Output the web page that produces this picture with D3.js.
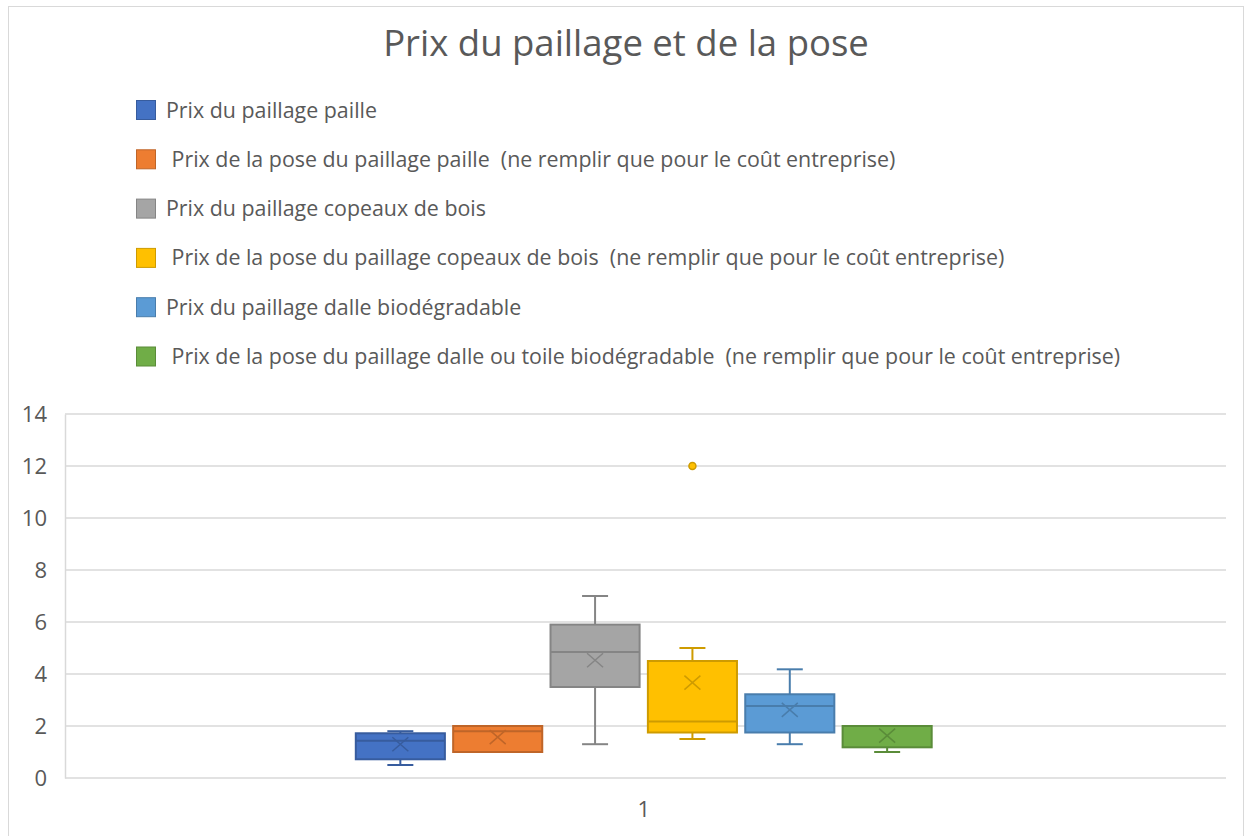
<!DOCTYPE html>
<html>
<head>
<meta charset="utf-8">
<script src="https://cdn.jsdelivr.net/npm/d3@7"></script>
<style>
  body { margin: 0; background: #fff; }
  text { font-family: "Open Sans", sans-serif; fill: #595959; }
</style>
</head>
<body>
<div id="chart"></div>
<script>
(function(d3){

  // series names (legend), colours and box statistics
  var series = [
    'Prix du paillage paille',
    ' Prix de la pose du paillage paille  (ne remplir que pour le coût entreprise)',
    'Prix du paillage copeaux de bois',
    ' Prix de la pose du paillage copeaux de bois  (ne remplir que pour le coût entreprise)',
    'Prix du paillage dalle biodégradable',
    ' Prix de la pose du paillage dalle ou toile biodégradable  (ne remplir que pour le coût entreprise)'
  ];
  var colors = ['#4472C4', '#ED7D31', '#A5A5A5', '#FFC000', '#5B9BD5', '#70AD47'];

  var mins    = [0.5,  1.0, 1.3, 1.5,  1.3,  1.0];
  var q1s     = [0.72, 1.0, 3.5, 1.75, 1.75, 1.18];
  var medians = [1.43, 1.8, 4.85, 2.17, 2.77, 2.0];
  var q3s     = [1.72, 2.0, 5.9, 4.5,  3.22, 2.0];
  var maxs    = [1.8,  2.0, 7.0, 5.0,  4.18, 2.0];
  var means   = [1.3,  1.57, 4.53, 3.67, 2.62, 1.63];
  var outliers = [[], [], [], [12], [], []];

  var categories = ['1'];
  var yTicks = [0, 2, 4, 6, 8, 10, 12, 14];

  var W = 1245, H = 836,
      plot = {left: 65, right: 1226, top: 414, bottom: 778};

  var svg = d3.select('#chart').append('svg')
      .attr('width', W)
      .attr('height', H);

  // chart frame
  svg.append('rect')
      .attr('x', 8.5).attr('y', 6.5)
      .attr('width', 1235).attr('height', 840)
      .attr('fill', '#fff')
      .attr('stroke', '#d9d9d9');

  // title
  svg.append('text')
      .attr('x', 626).attr('y', 56)
      .attr('text-anchor', 'middle')
      .style('font-size', '36.5px')
      .text('Prix du paillage et de la pose');

  // legend
  var legend = svg.append('g').selectAll('g')
      .data(series)
    .enter().append('g')
      .attr('transform', function(d, i) { return 'translate(136,' + (100 + i * 49.3) + ')'; });

  legend.append('rect')
      .attr('x', 0.5).attr('y', 0.5)
      .attr('width', 19).attr('height', 19)
      .attr('fill', function(d, i) { return colors[i]; })
      .attr('stroke', function(d, i) { return d3.color(colors[i]).darker(0.6); });

  legend.append('text')
      .attr('x', 30).attr('y', 17.5)
      .style('font-size', '21.4px')
      .style('white-space', 'pre')
      .attr('xml:space', 'preserve')
      .text(function(d) { return d; });

  // scales
  var y = d3.scaleLinear().domain([0, 14]).range([plot.bottom, plot.top]);

  var x0 = d3.scaleBand()
      .domain(categories)
      .range([plot.left, plot.right])
      .paddingOuter(0.508)
      .align(0.497);

  var x1 = d3.scaleBand()
      .domain(d3.range(series.length))
      .range([0, x0.bandwidth()])
      .paddingInner(0.085)
      .paddingOuter(0);

  // gridlines
  svg.append('g').selectAll('line')
      .data(yTicks)
    .enter().append('line')
      .attr('x1', plot.left).attr('x2', plot.right)
      .attr('y1', function(d) { return y(d); })
      .attr('y2', function(d) { return y(d); })
      .attr('stroke', '#d9d9d9')
      .attr('stroke-width', 1.5);

  // y axis
  var yAxis = svg.append('g')
      .attr('transform', 'translate(' + plot.left + ',0)')
      .call(d3.axisLeft(y).tickValues(yTicks).tickSize(0).tickPadding(18));
  yAxis.select('.domain').attr('stroke', '#d9d9d9').attr('stroke-width', 1.5);
  yAxis.selectAll('text').style('font-size', '22px').attr('fill', '#595959');

  // x axis
  var xAxis = svg.append('g')
      .attr('transform', 'translate(0,' + plot.bottom + ')')
      .call(d3.axisBottom(x0).tickSize(0).tickPadding(23));
  xAxis.select('.domain').remove();
  xAxis.selectAll('text').style('font-size', '22px').attr('fill', '#595959');

  // boxes
  var boxes = svg.append('g').selectAll('g')
      .data(series)
    .enter().append('g')
      .attr('transform', function(d, i) { return 'translate(' + (x0('1') + x1(i)) + ',0)'; });

  var bw = x1.bandwidth(), cx = bw / 2, cap = 13;

  boxes.each(function(d, i) {
    var g = d3.select(this),
        c = colors[i],
        dark = d3.color(c).darker(0.6).formatHex();

    // whiskers
    g.append('line')
        .attr('x1', cx).attr('x2', cx)
        .attr('y1', y(maxs[i])).attr('y2', y(q3s[i]))
        .attr('stroke', dark).attr('stroke-width', 2);
    g.append('line')
        .attr('x1', cx).attr('x2', cx)
        .attr('y1', y(q1s[i])).attr('y2', y(mins[i]))
        .attr('stroke', dark).attr('stroke-width', 2);
    [mins[i], maxs[i]].forEach(function(v) {
      g.append('line')
          .attr('x1', cx - cap).attr('x2', cx + cap)
          .attr('y1', y(v)).attr('y2', y(v))
          .attr('stroke', dark).attr('stroke-width', 2);
    });

    // box
    g.append('rect')
        .attr('x', 0).attr('width', bw)
        .attr('y', y(q3s[i]))
        .attr('height', y(q1s[i]) - y(q3s[i]))
        .attr('fill', c)
        .attr('stroke', dark).attr('stroke-width', 2);

    // median
    g.append('line')
        .attr('x1', 0).attr('x2', bw)
        .attr('y1', y(medians[i])).attr('y2', y(medians[i]))
        .attr('stroke', dark).attr('stroke-width', 2);

    // mean marker
    var my = y(means[i]);
    g.append('path')
        .attr('d', 'M' + (cx - 8) + ',' + (my - 7) + 'L' + (cx + 8) + ',' + (my + 7) +
                   'M' + (cx - 8) + ',' + (my + 7) + 'L' + (cx + 8) + ',' + (my - 7))
        .attr('stroke', dark).attr('stroke-width', 1.5).attr('fill', 'none');

    // outliers
    g.selectAll('circle')
        .data(outliers[i])
      .enter().append('circle')
        .attr('cx', cx).attr('cy', function(v) { return y(v); })
        .attr('r', 3.5)
        .attr('fill', c)
        .attr('stroke', dark).attr('stroke-width', 1.5);
  });

})(d3);
</script>
</body>
</html>
